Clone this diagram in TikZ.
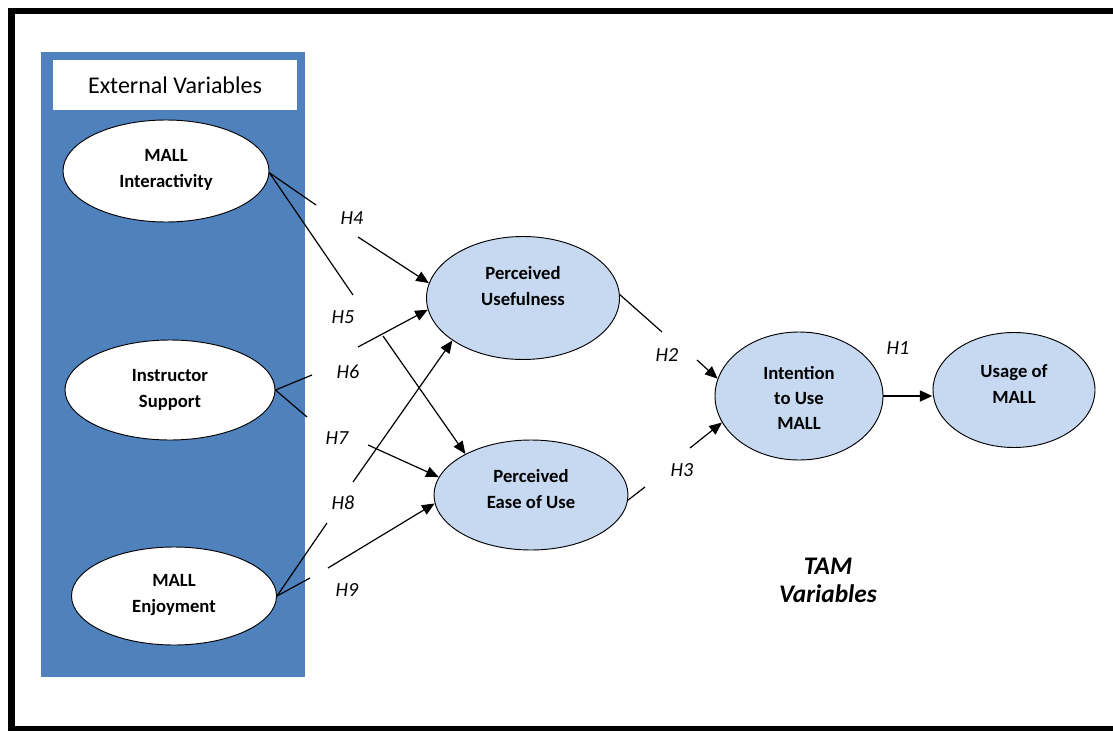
\documentclass[tikz,border=0pt]{standalone}
\usepackage{fontspec}
\setmainfont{Carlito}
\usetikzlibrary{shapes.geometric,arrows.meta}
\definecolor{extblue}{HTML}{4F81BD}
\definecolor{tamblue}{HTML}{C6D9F1}

\begin{document}
\begin{tikzpicture}[x=0.75pt,y=-0.75pt,
	varshape/.style={ellipse,draw,line width=0.7pt,inner sep=0pt},
	extvar/.style={varshape,fill=white},
	tamvar/.style={varshape,fill=tamblue},
	vartext/.style={font=\fontsize{14}{19}\selectfont\bfseries,align=center,inner sep=0pt},
	hyp/.style={font=\fontsize{15}{17}\selectfont\itshape},
	link/.style={line width=0.9pt},
	arr/.style={link,-{Triangle[length=9.5pt,width=8pt]}}]
		\useasboundingbox (0,0) rectangle (1113,731);
		\fill[white] (0,0) rectangle (1113,731);
		\draw[line width=5pt] (1120,11) -- (11.5,11) -- (11.5,729) -- (1120,729);
		
		\fill[extblue] (41,52) rectangle (305,677);
		\node[fill=white,minimum width=183pt,minimum height=37.5pt,font=\fontsize{18}{20}\selectfont] (extlabel) at (175,85) {External Variables};
		
		\node[extvar,minimum width=154.5pt,minimum height=76.5pt] (mi) at (166,171) {};
		\node[extvar,minimum width=157.5pt,minimum height=75pt] (is) at (170,390) {};
		\node[extvar,minimum width=153.75pt,minimum height=73.5pt] (me) at (174,596) {};
		\node[tamvar,minimum width=144.75pt,minimum height=92.25pt] (pu) at (523,298) {};
		\node[tamvar,minimum width=145.5pt,minimum height=82.5pt] (pe) at (531,495) {};
		\node[tamvar,minimum width=126pt,minimum height=96pt] (ti) at (799,396) {};
		\node[tamvar,minimum width=121.5pt,minimum height=86.25pt] (us) at (1014,390) {};
		
		\node[vartext] (mi-txt) at (166,170) {MALL\\Interactivity};
		\node[vartext] (is-txt) at (170,390) {Instructor\\Support};
		\node[vartext] (me-txt) at (174,595) {MALL\\Enjoyment};
		\node[vartext] (pu-txt) at (523,286) {Perceived\\Usefulness};
		\node[vartext] (pe-txt) at (531,489) {Perceived\\Ease of Use};
		\node[vartext] (ti-txt) at (799,398) {Intention\\to Use\\MALL};
		\node[vartext] (us-txt) at (1014,384) {Usage of\\MALL};
		
		\node[hyp] (h1) at (898,348) {H1};
		\node[hyp] (h2) at (667,355) {H2};
		\node[hyp] (h3) at (682,470) {H3};
		\node[hyp] (h4) at (352,218) {H4};
		\node[hyp] (h5) at (343,317) {H5};
		\node[hyp] (h6) at (348,372) {H6};
		\node[hyp] (h7) at (337,438) {H7};
		\node[hyp] (h8) at (343,503) {H8};
		\node[hyp] (h9) at (347,590) {H9};
		
		\coordinate (h2a) at (662,332);
		\coordinate (h2b) at (697,360);
		\coordinate (h3a) at (645,487);
		\coordinate (h3b) at (690,448);
		\coordinate (h4a) at (316,205);
		\coordinate (h4b) at (358,237);
		\coordinate (h5a) at (353,295);
		\coordinate (h5b) at (383,336);
		\coordinate (h6a) at (312,375);
		\coordinate (h6b) at (358,347);
		\coordinate (h7a) at (307,417);
		\coordinate (h7b) at (368,445);
		\coordinate (h8a) at (327,523);
		\coordinate (h8b) at (353,482);
		\coordinate (h9a) at (310,578);
		\coordinate (h9b) at (328,568);
		
		\draw[link] (mi.-1) -- (h4a);
		\draw[arr] (h4b) -- (pu.171);
		\draw[link] (mi.-1) -- (h5a);
		\draw[arr] (h5b) -- (pe.148);
		\draw[link] (is.east) -- (h6a);
		\draw[arr] (h6b) -- (pu.187);
		\draw[link] (is.east) -- (h7a);
		\draw[arr] (h7b) -- (pe.169);
		\draw[link] (me.east) -- (h8a);
		\draw[arr] (h8b) -- (pu.211);
		\draw[link] (me.east) -- (h9a);
		\draw[arr] (h9b) -- (pe.185);
		\draw[link] (pu.2) -- (h2a);
		\draw[arr] (h2b) -- (ti.168);
		\draw[link] (pe.-3) -- (h3a);
		\draw[arr] (h3b) -- (ti.199);
		\draw[arr,line width=2pt] (ti.east) -- (ti.east -| us.west);
		
		\node[font=\fontsize{19}{21}\selectfont\bfseries\itshape,align=center] (tam) at (828,580) {TAM\\Variables};
	\end{tikzpicture}
\end{document}
